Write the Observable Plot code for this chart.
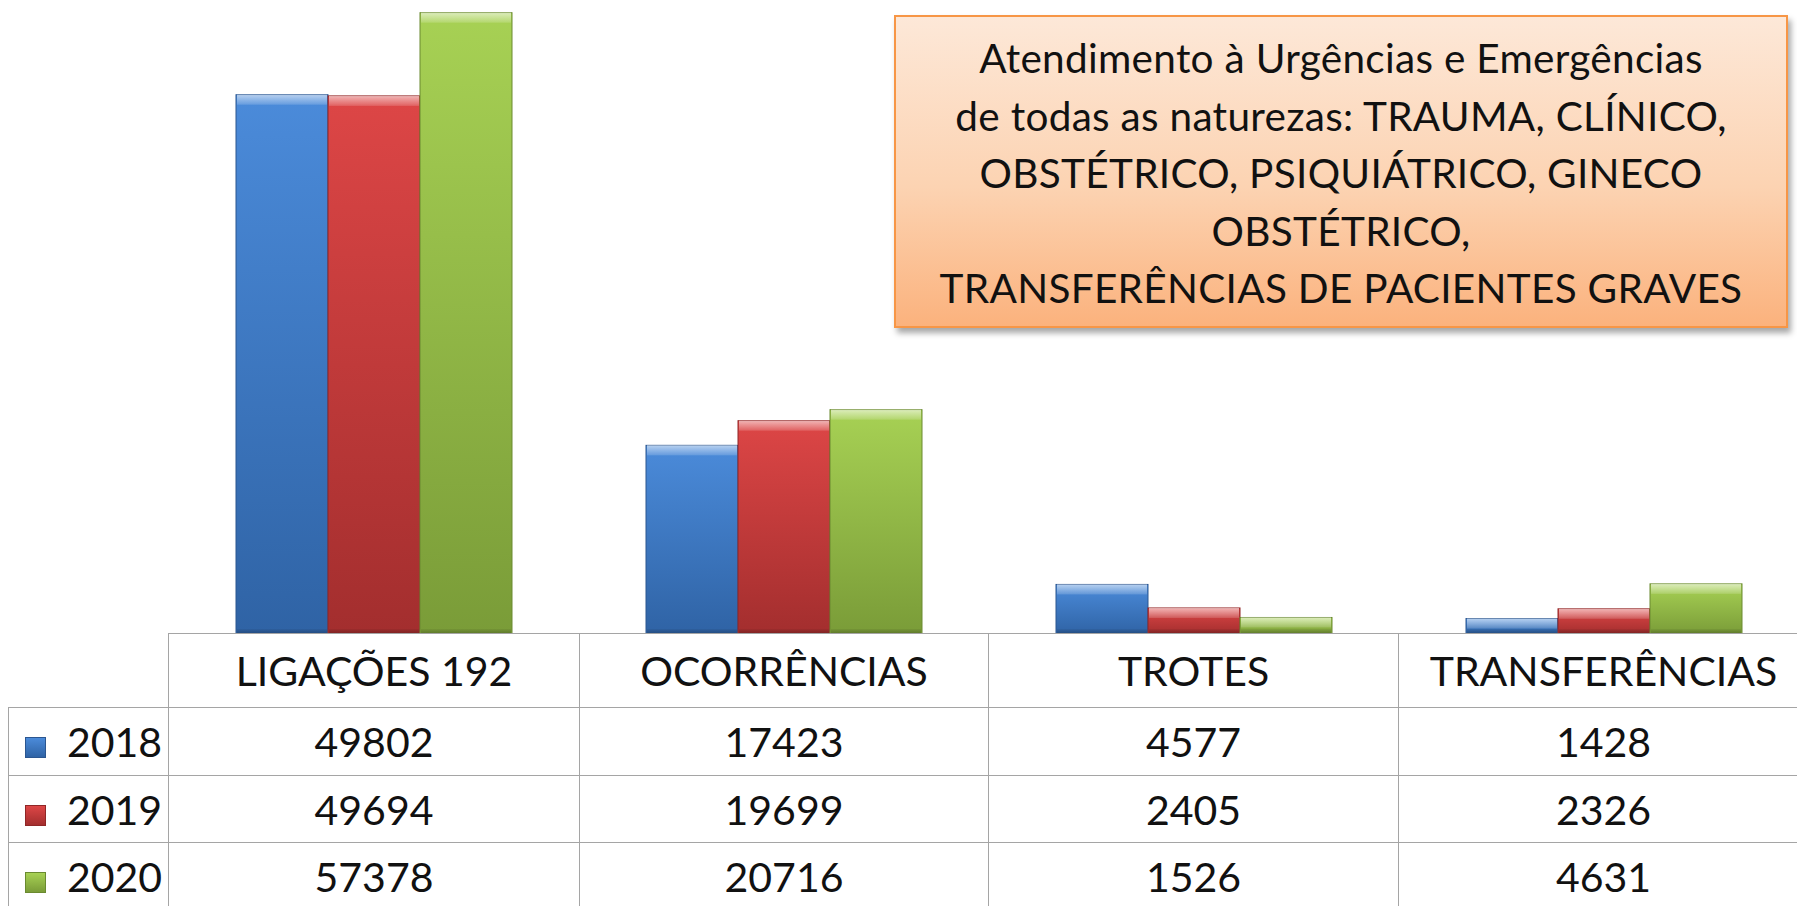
<!DOCTYPE html>
<html><head><meta charset="utf-8">
<script src="https://cdn.jsdelivr.net/npm/d3@7"></script>
<script src="https://cdn.jsdelivr.net/npm/@observablehq/plot@0.6"></script>
<style>
html,body{margin:0;padding:0;background:#fff;}
body{width:1797px;height:906px;overflow:hidden;position:relative;font-family:Lato,"Open Sans",sans-serif;}
#chart{position:absolute;left:0;top:0;width:1809px;}
#chart svg{max-width:none !important;}
#box{position:absolute;left:894px;top:15px;width:894px;height:313px;box-sizing:border-box;
 border:2px solid #f79646;background:linear-gradient(to bottom,#fde8d8 0%,#fcd3b2 55%,#fbb27d 100%);
 box-shadow:3px 5px 6px rgba(0,0,0,0.35);text-align:center;font-size:40.5px;line-height:57.5px;color:#111;padding-top:12px;letter-spacing:0.3px;}
#tbl{position:absolute;left:8px;top:633px;border-collapse:collapse;table-layout:fixed;width:1800px;font-size:41px;color:#111;}
#tbl td{border:1.5px solid #a5a5a5;padding:0;text-align:center;vertical-align:middle;white-space:nowrap;}
#tbl td.blank{border-top:none;border-left:none;}
#tbl td.lab{text-align:left;padding-left:16px;}
.sw{display:inline-block;width:21px;height:21px;margin-right:21px;vertical-align:-1px;box-sizing:border-box;}
</style></head><body>
<div id="chart"></div>
<div id="box"></div>
<table id="tbl"></table>
<script>
// ---- data ----
const categories = ["LIGAÇÕES 192", "OCORRÊNCIAS", "TROTES", "TRANSFERÊNCIAS"];
const years = ["2018", "2019", "2020"];
const values2018 = [49802, 17423, 4577, 1428];
const values2019 = [49694, 19699, 2405, 2326];
const values2020 = [57378, 20716, 1526, 4631];
const boxLines = [
  "Atendimento à Urgências e Emergências",
  "de todas as naturezas: TRAUMA, CLÍNICO,",
  "OBSTÉTRICO, PSIQUIÁTRICO, GINECO",
  "OBSTÉTRICO,",
  "TRANSFERÊNCIAS DE PACIENTES GRAVES"
];
const seriesValues = [values2018, values2019, values2020];
const gradStops = [["#4b8bda", "#2f63a5"], ["#dd4646", "#a32e2e"], ["#a7d154", "#7a9c38"]];
const strokes = ["#2b5690", "#8f2727", "#6a8a30"];

const data = [];
categories.forEach((c, i) => years.forEach((y, j) => data.push({category: c, year: y, value: seriesValues[j][i]})));

const plot = Plot.plot({
  width: 1809, height: 634,
  marginLeft: 169, marginRight: 0, marginTop: 0, marginBottom: 0,
  style: {maxWidth: "none"},
  fx: {domain: categories, paddingInner: 0, paddingOuter: 0, axis: null},
  x: {domain: years, paddingInner: 0, paddingOuter: 0.72, axis: null},
  y: {domain: [0, 58550], axis: null},
  color: {type: "ordinal", domain: years, range: years.map(y => `url(#g${y})`)},
  marks: [
    Plot.barY(data, {fx: "category", x: "year", y: "value", fill: "year",
      stroke: d => strokes[years.indexOf(d.year)], strokeWidth: 1}),
    Plot.barY(data, {fx: "category", x: "year", y1: "value", y2: "value",
      insetBottom: -10, insetLeft: 1, insetRight: 1, fill: "url(#hl)"}),
    Plot.barY(data, {fx: "category", x: "year", y1: 0, y2: 0,
      insetTop: -5, insetLeft: 1, insetRight: 1, fill: "url(#sh)"})
  ]
});
const svg = d3.select(plot);
const defs = svg.insert("defs", ":first-child");
years.forEach((y, j) => {
  const g = defs.append("linearGradient").attr("id", `g${y}`).attr("x1", 0).attr("y1", 0).attr("x2", 0).attr("y2", 1);
  g.append("stop").attr("offset", "0%").attr("stop-color", gradStops[j][0]);
  g.append("stop").attr("offset", "100%").attr("stop-color", gradStops[j][1]);
});
const hl = defs.append("linearGradient").attr("id", "hl").attr("x1", 0).attr("y1", 0).attr("x2", 0).attr("y2", 1);
hl.append("stop").attr("offset", "0%").attr("stop-color", "#fff").attr("stop-opacity", 0.6);
hl.append("stop").attr("offset", "100%").attr("stop-color", "#fff").attr("stop-opacity", 0.15);
const sh = defs.append("linearGradient").attr("id", "sh").attr("x1", 0).attr("y1", 0).attr("x2", 0).attr("y2", 1);
sh.append("stop").attr("offset", "0%").attr("stop-color", "#000").attr("stop-opacity", 0.05);
sh.append("stop").attr("offset", "100%").attr("stop-color", "#000").attr("stop-opacity", 0.25);
document.getElementById("chart").appendChild(plot);

// ---- text box ----
d3.select("#box").selectAll("div").data(boxLines).join("div").text(d => d);

// ---- data table ----
const tbl = d3.select("#tbl");
const colW = [160, 411, 409, 410, 410];
const cg = tbl.append("colgroup");
colW.forEach(w => cg.append("col").style("width", w + "px"));
const hdr = tbl.append("tr").style("height", "74px");
hdr.append("td").attr("class", "blank");
categories.forEach(c => hdr.append("td").text(c));
const rowH = [68, 67, 68];
years.forEach((y, j) => {
  const tr = tbl.append("tr").style("height", rowH[j] + "px");
  const lab = tr.append("td").attr("class", "lab");
  lab.append("span").attr("class", "sw")
    .style("background", `linear-gradient(to bottom, ${gradStops[j][0]}, ${gradStops[j][1]})`)
    .style("border", `1px solid ${strokes[j]}`);
  lab.append("span").text(y);
  seriesValues[j].forEach(v => tr.append("td").text(v));
});
</script>
</body></html>
